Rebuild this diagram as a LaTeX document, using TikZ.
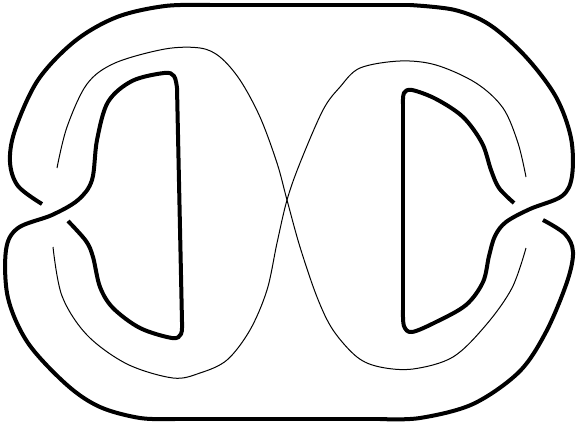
\documentclass[tikz,border=0pt]{standalone}
\usetikzlibrary{arrows.meta}

\begin{document}
\begin{tikzpicture}[x=1pt,y=-1pt,
  grueso/.style={line width=4pt,line join=round},
  fino/.style={line width=1pt,line join=round}]
  \useasboundingbox (0,0) rectangle (576,429);
  % ============ HEBRA GRUESA 1 (arriba, D derecha) ============
  \draw[grueso] plot[smooth,tension=0.55] coordinates {
    (42,204) (18,186) (10,162) (15,130) (38,80) (75,41) (117,17) (165,6) (210,5)};
  \draw[grueso] (210,5) -- (410,5);
  \draw[grueso] plot[smooth,tension=0.55] coordinates {
    (410,5) (455,10) (490,25) (526,57) (556,97) (571,138) (572,176) (562,196)
    (530,209) (506,222) (495,236) (489,256) (483,282) (466,305) (436,322) (412,332)
    (404,326) (403,310)};
  \draw[grueso] (403,310) -- (403,104);
  \draw[grueso] plot[smooth,tension=0.55] coordinates {
    (403,104) (404,93) (412,90) (436,99) (463,117) (482,143) (491,170) (499,188) (514,203)};
  % ============ HEBRA GRUESA 2 (abajo, D izquierda) ============
  \draw[grueso] plot[smooth,tension=0.55] coordinates {
    (543,220) (565,234) (573,252) (567,282) (546,332) (519,372) (473,404) (420,418) (380,419)};
  \draw[grueso] (380,419) -- (175,419);
  \draw[grueso] plot[smooth,tension=0.55] coordinates {
    (175,419) (140,418) (100,407) (67,385) (28,343) (8,298) (6,250) (18,228)
    (52,215) (78,200) (92,180) (97,140) (108,102) (132,81) (164,73) (174,76) (177,88)};
  \draw[grueso] (177,88) -- (182,322);
  \draw[grueso] plot[smooth,tension=0.55] coordinates {
    (182,322) (181,334) (172,338) (140,328) (113,308) (100,287) (93,257) (86,241) (68,221)};
  % ============ CURVA FINA (ocho) ============
  \draw[fino] plot[smooth,tension=0.55] coordinates {
    (57,168) (67,127) (87,84) (115,63) (165,49) (200,48) (220,57) (240,80) (260,117)
    (277,163) (287,200) (300,247) (317,297) (333,330) (357,357) (380,367) (413,369)
    (453,357) (486,325) (512,288) (526,248)};
  \draw[fino] plot[smooth,tension=0.55] coordinates {
    (53,247) (62,296) (87,335) (127,364) (173,378) (200,373) (227,360) (250,330)
    (267,290) (277,243) (287,200) (300,163) (323,110) (340,87) (360,68) (400,61)
    (436,65) (476,83) (503,108) (518,143) (526,177)};
\end{tikzpicture}
\end{document}
